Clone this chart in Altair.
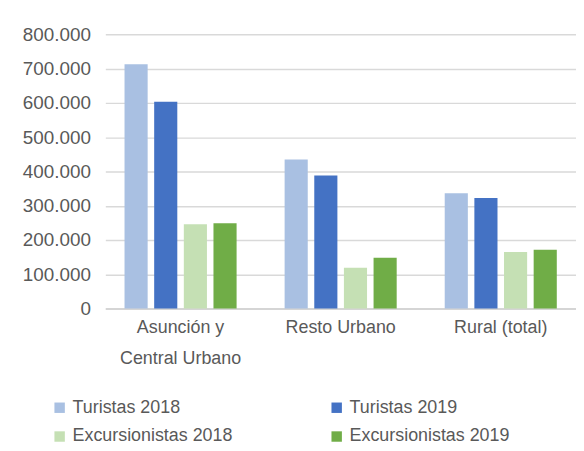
import altair as alt
import pandas as pd

categories = ["Asunción y Central Urbano", "Resto Urbano", "Rural (total)"]
series = ["Turistas 2018", "Turistas 2019", "Excursionistas 2018", "Excursionistas 2019"]
turistas_2018 = [713000, 435000, 336000]
turistas_2019 = [603000, 388000, 322000]
excursionistas_2018 = [246000, 119000, 165000]
excursionistas_2019 = [249000, 148000, 171000]
colors = ["#A9C0E2", "#4472C4", "#C5E0B4", "#70AD47"]
y_ticks = [0, 100000, 200000, 300000, 400000, 500000, 600000, 700000, 800000]

rows = []
for s, vals in zip(series, [turistas_2018, turistas_2019, excursionistas_2018, excursionistas_2019]):
    for c, v in zip(categories, vals):
        rows.append({"categoria": c, "serie": s, "valor": v})
df = pd.DataFrame(rows)

# legend fills column by column: order so rows read T2018 | T2019, E2018 | E2019
legend_order = [series[0], series[2], series[1], series[3]]
legend_colors = [colors[0], colors[2], colors[1], colors[3]]

FONT = "Liberation Sans"

chart = alt.Chart(df).mark_bar().encode(
    x=alt.X("categoria:N", sort=categories, title=None,
            scale=alt.Scale(paddingInner=0.3, paddingOuter=0.12),
            axis=alt.Axis(labelAngle=0, ticks=False, domainColor="#D0D0D0", domainWidth=1.5,
                          labelFont=FONT, labelFontSize=18, labelColor="#595959",
                          labelPadding=10, labelLineHeight=31, labelBaseline="top",
                          labelExpr="datum.label == 'Asunción y Central Urbano' ? ['Asunción y', 'Central Urbano'] : datum.label")),
    xOffset=alt.XOffset("serie:N", sort=series, scale=alt.Scale(paddingInner=0.22)),
    y=alt.Y("valor:Q", title=None,
            scale=alt.Scale(domain=[0, 800000], nice=False),
            axis=alt.Axis(values=y_ticks, ticks=False, domain=False, gridColor="#D9D9D9", gridWidth=1.5,
                          labelFont=FONT, labelFontSize=19, labelColor="#595959", labelPadding=15,
                          labelExpr="replace(format(datum.value, ',.0f'), ',', '.')")),
    color=alt.Color("serie:N", sort=legend_order,
                    scale=alt.Scale(domain=legend_order, range=legend_colors),
                    legend=alt.Legend(title=None, orient="none", legendX=-55, legendY=367, columns=2,
                                      columnPadding=95, rowPadding=11,
                                      symbolType="square", symbolSize=110, symbolStrokeWidth=0,
                                      labelFont=FONT, labelFontSize=18, labelColor="#595959",
                                      labelLimit=300, symbolOffset=0)),
).properties(width=474, height=276, padding={"left": 14, "top": 16, "right": 0, "bottom": 0}).configure_view(stroke=None)

chart.save("out.html", embed_options={"renderer": "svg", "actions": False})
